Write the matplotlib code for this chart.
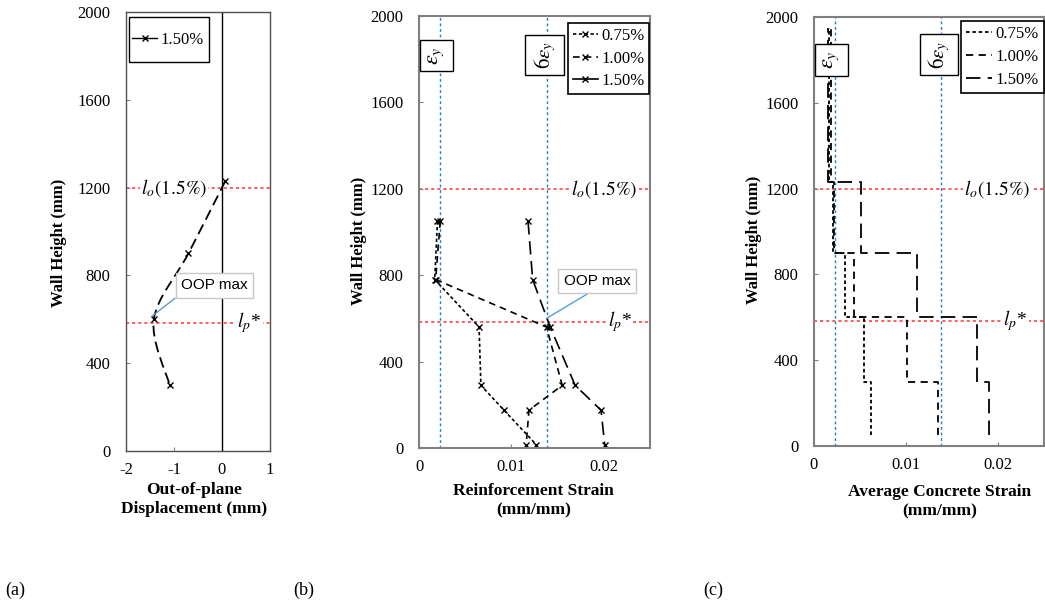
import numpy as np
import matplotlib
matplotlib.use("Agg")
import matplotlib.pyplot as plt
from matplotlib.lines import Line2D
from matplotlib.path import Path
from matplotlib.patches import PathPatch, Rectangle

plt.rcParams['font.family'] = ['Liberation Serif', 'DejaVu Serif']
plt.rcParams['mathtext.fontset'] = 'stix'
plt.rcParams['axes.unicode_minus'] = False

# (a) out-of-plane displacement, 1.50% drift
a_height = [1230, 900, 600, 300]
a_disp = [0.07, -0.70, -1.42, -1.09]

# (b) reinforcement strain
b_height = [1050, 780, 560, 290, 175, 15]
b_075 = [0.0020, 0.0017, 0.0065, 0.0067, 0.0092, 0.0127]
b_100 = [0.0023, 0.0018, 0.0138, 0.0155, 0.0119, 0.0116]
b_150 = [0.0118, 0.0123, 0.0142, 0.0169, 0.0197, 0.0201]

# (c) average concrete strain, constant over each gauge interval
c_edges = [50, 300, 600, 900, 1230, 1950]
c_075 = [0.0062, 0.0054, 0.0034, 0.0021, 0.0016]
c_100 = [0.0135, 0.0101, 0.0043, 0.0022, 0.0018]
c_150 = [0.0190, 0.0177, 0.0112, 0.0051, 0.0015]

drift_labels = ['0.75%', '1.00%', '1.50%']
eps_y = 0.0023
l_o = 1200
l_p = 585

styles = [(0, (2, 1.5)), (0, (4, 3)), (0, (8, 4))]
red = '#ff3030'
blue = '#1f7fd0'
spine_col = '#808080'

fig = plt.figure(figsize=(10.45, 6.05), dpi=100)
ax_a = fig.add_axes([126/1045, 154/605, 144/1045, 439/605])
ax_b = fig.add_axes([419/1045, 157/605, 231/1045, 432/605])
ax_c = fig.add_axes([814/1045, 159/605, 230/1045, 429/605])


def style_axes(ax, spine_w, col=spine_col):
    for s in ax.spines.values():
        s.set_color(col)
        s.set_linewidth(spine_w)
    ax.tick_params(direction='in', length=3, color=spine_col, labelsize=12,
                   pad=8)
    ax.tick_params(axis='y', pad=11)
    ax.set_ylim(0, 2000)
    ax.set_yticks(np.arange(0, 2001, 400))
    ax.set_ylabel('Wall Height (mm)', fontsize=12, fontweight='bold')


def marker_line(ax, x, y, ls, label):
    ax.plot(x, y, color='black', linestyle=ls, lw=1.2, marker='x',
            ms=5, mew=1, label=label)


def ref_lines(ax, lo_x, lp_x):
    ax.axhline(l_o, color=red, linestyle=(0, (2, 2)), lw=1.1, zorder=1)
    ax.axhline(l_p, color=red, linestyle=(0, (2, 2)), lw=1.1, zorder=1)
    bb = dict(facecolor='white', edgecolor='none', pad=1)
    ax.text(lo_x, l_o, r'$l_o(1.5\%)$', fontsize=14, ha='center',
            va='center', bbox=bb, clip_on=False)
    ax.text(lp_x, l_p, r'$l_p$*', fontsize=14, ha='center', va='center',
            bbox=bb, clip_on=False)


def eps_boxes(ax, y1, y2):
    ax.axvline(eps_y, color=blue, linestyle=(0, (2, 2)), lw=1, zorder=1)
    ax.axvline(6 * eps_y, color=blue, linestyle=(0, (2, 2)), lw=1, zorder=1)
    bb = dict(facecolor='white', edgecolor='black', lw=1,
              boxstyle='square,pad=0.3')
    ax.text(eps_y - 0.0004, y1, r'$\varepsilon_y$', rotation=90, fontsize=16,
            ha='center', va='center', bbox=bb, zorder=5)
    ax.text(6 * eps_y - 0.0002, y2, r'$6\varepsilon_y$', rotation=90,
            fontsize=15, ha='center', va='center', bbox=bb, zorder=5)


def oop_box(ax, xy, xytext, relpos):
    ax.annotate('OOP max', xy=xy, xytext=xytext, fontsize=11,
                family='Liberation Sans', ha='center', va='center',
                bbox=dict(facecolor='white', edgecolor='#c8c8c8',
                          boxstyle='square,pad=0.35'),
                arrowprops=dict(arrowstyle='-', color='#5b9bd5', lw=1,
                                relpos=relpos, shrinkA=0, shrinkB=0),
                zorder=6)


def drift_legend(ax, handles, anchor, hlen):
    leg = ax.legend(handles=handles, labels=drift_labels, loc='upper right',
                    bbox_to_anchor=anchor, fontsize=12, fancybox=False,
                    edgecolor='black', framealpha=1, borderpad=0.3,
                    borderaxespad=0, handlelength=hlen, handletextpad=0.2,
                    labelspacing=0.4)
    leg.get_frame().set_linewidth(1.2)


# ---- (a)
style_axes(ax_a, 1.0, '#505050')
ax_a.set_xlim(-2, 1)
ax_a.set_xticks([-2, -1, 0, 1])
ax_a.axvline(0, color='black', lw=1)
# smoothed line through the points (Catmull-Rom as cubic Bezier)
pts = np.column_stack([a_disp, a_height]).astype(float)
ext = np.vstack([pts[0], pts, pts[-1]])
verts = [pts[0]]
codes = [Path.MOVETO]
for i in range(len(pts) - 1):
    p0, p1, p2, p3 = ext[i], ext[i + 1], ext[i + 2], ext[i + 3]
    verts += [p1 + (p2 - p0) / 6, p2 - (p3 - p1) / 6, p2]
    codes += [Path.CURVE4] * 3
ax_a.add_patch(PathPatch(Path(verts, codes), fill=False, color='black',
                         lw=1.3, linestyle=(0, (6, 3))))
ax_a.plot(a_disp, a_height, 'x', color='black', ms=5, mew=1)
# legend box drawn separately so it can be taller than its single entry
ax_a.add_patch(Rectangle((0.019, 0.886), 0.555, 0.1026, transform=ax_a.transAxes,
                         facecolor='white', edgecolor='black', lw=1, zorder=4))
ax_a.legend(handles=[Line2D([], [], color='black', lw=1, marker='x', ms=5)],
            labels=['1.50%'], loc='center left', bbox_to_anchor=(0.019, 0.937),
            fontsize=12, frameon=False, borderpad=0.2, borderaxespad=0,
            handlelength=1.5, handletextpad=0.2)
ref_lines(ax_a, -1.0, 0.57)
oop_box(ax_a, (-1.47, 612), (-0.16, 754), (0.02, 0))
ax_a.set_xlabel('Out-of-plane\nDisplacement (mm)', fontsize=12.5,
                fontweight='bold', linespacing=1.3)
ax_a.xaxis.set_label_coords(0.476, -0.07)
ax_a.yaxis.set_label_coords(-0.41, 0.475)

# ---- (b)
style_axes(ax_b, 1.5)
ax_b.set_xlim(0, 0.025)
ax_b.set_xticks([0, 0.01, 0.02])
ax_b.set_xticklabels(['0', '0.01', '0.02'])
for vals, ls, lab in zip([b_075, b_100, b_150], styles, drift_labels):
    marker_line(ax_b, vals, b_height, ls, lab)
handles = [Line2D([], [], color='black', lw=1.2, marker='x', ms=5, linestyle=s)
           for s in styles[:2]]
handles.append(Line2D([], [], color='black', lw=1.2, marker='x', ms=5))
drift_legend(ax_b, handles, (0.997, 0.984), 1.5)
ref_lines(ax_b, 0.02005, 0.0217)
eps_boxes(ax_b, 1817, 1819)
oop_box(ax_b, (0.0138, 600), (0.01928, 773), (0.5, 0))
ax_b.set_xlabel('Reinforcement Strain\n(mm/mm)', fontsize=12.5,
                fontweight='bold', linespacing=1.3)
ax_b.xaxis.set_label_coords(0.495, -0.08)
ax_b.yaxis.set_label_coords(-0.225, 0.48)

# ---- (c)
style_axes(ax_c, 1.5)
ax_c.set_xlim(0, 0.025)
ax_c.set_xticks([0, 0.01, 0.02])
ax_c.set_xticklabels(['0', '0.01', '0.02'])
ys = np.column_stack([c_edges[:-1], c_edges[1:]]).ravel()
for vals, ls in zip([c_075, c_100, c_150], styles):
    ax_c.plot(np.repeat(vals, 2), ys, color='black', linestyle=ls, lw=1.3)
handles = [Line2D([], [], color='black', lw=1.3, linestyle=s) for s in styles]
drift_legend(ax_c, handles, (1.0, 0.99), 1.6)
ref_lines(ax_c, 0.01995, 0.0219)
eps_boxes(ax_c, 1800, 1825)
ax_c.set_xlabel('Average Concrete Strain\n(mm/mm)', fontsize=12.5,
                fontweight='bold', linespacing=1.3)
ax_c.xaxis.set_label_coords(0.545, -0.088)
ax_c.yaxis.set_label_coords(-0.227, 0.48)

fig.text(5/1045, 1 - 590/605, '(a)', fontsize=13, va='center')
fig.text(293/1045, 1 - 590/605, '(b)', fontsize=13, va='center')
fig.text(703/1045, 1 - 590/605, '(c)', fontsize=13, va='center')

fig.savefig('out.png', dpi=100)
